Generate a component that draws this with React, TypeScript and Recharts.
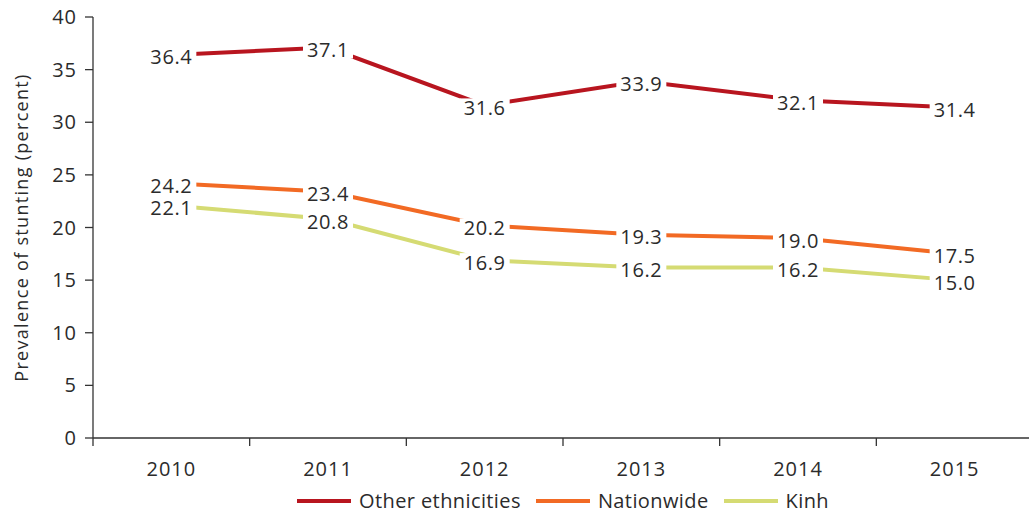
import React from "react";
import { LineChart, Line, XAxis, YAxis, Legend, LabelList } from "recharts";

const years = ["2010", "2011", "2012", "2013", "2014", "2015"];
const otherEthnicities = [36.4, 37.1, 31.6, 33.9, 32.1, 31.4];
const nationwide = [24.2, 23.4, 20.2, 19.3, 19.0, 17.5];
const kinh = [22.1, 20.8, 16.9, 16.2, 16.2, 15.0];
const yTicks = [0, 5, 10, 15, 20, 25, 30, 35, 40];

const seriesInfo = [
  { key: "other", name: "Other ethnicities", color: "#B8151F" },
  { key: "nation", name: "Nationwide", color: "#F26A24" },
  { key: "kinh", name: "Kinh", color: "#D5DB73" },
];

const data = years.map((y, i) => ({
  x: i + 0.5,
  year: y,
  other: otherEthnicities[i],
  nation: nationwide[i],
  kinh: kinh[i],
}));

const xTicks: number[] = [];
for (let i = 0; i <= years.length; i++) {
  xTicks.push(i);
  if (i < years.length) xTicks.push(i + 0.5);
}

const FONT = "'Open Sans', 'Noto Sans', sans-serif";
const TEXT = "#2b2b2b";

const XTick = (props: any) => {
  const { x, y, payload } = props;
  const v = payload.value as number;
  if (Number.isInteger(v)) {
    return <line x1={x} x2={x} y1={y} y2={y + 8} stroke="#333" strokeWidth={1.3} />;
  }
  const label = years[Math.floor(v)];
  return (
    <text x={x} y={y + 30} textAnchor="middle" dominantBaseline="central" fontSize={20} fill={TEXT} fontFamily={FONT} letterSpacing={1}>
      {label}
    </text>
  );
};

const ValueLabel = (props: any) => {
  const { x, y, value } = props;
  const txt = Number(value).toFixed(1);
  const w = 50;
  const h = 18;
  return (
    <g>
      <rect x={x - w / 2} y={y + 2 - h / 2} width={w} height={h} fill="#fff" />
      <text x={x} y={y + 2} textAnchor="middle" dominantBaseline="central" fontSize={20} fill={TEXT} fontFamily={FONT} letterSpacing={0.6}>
        {txt}
      </text>
    </g>
  );
};

const LegendContent = () => (
  <div style={{ display: "flex", justifyContent: "center", alignItems: "center", fontFamily: FONT, fontSize: 20, color: TEXT, letterSpacing: 0.4 }}>
    {seriesInfo.map((s, i) => (
      <div key={s.key} style={{ display: "flex", alignItems: "center", marginRight: i < seriesInfo.length - 1 ? 15 : 0 }}>
        <div style={{ width: 54, height: 4, background: s.color, marginRight: 8 }} />
        <span>{s.name}</span>
      </div>
    ))}
  </div>
);

export default function App() {
  return (
    <div style={{ position: "absolute", left: 0, top: 0, width: 1029, height: 513, overflow: "hidden", background: "#fff" }}>
      <LineChart width={1040} height={513} data={data} margin={{ top: 17, right: 7, left: 0, bottom: 0 }}>
        <XAxis
          type="number"
          dataKey="x"
          domain={[0, years.length]}
          ticks={xTicks}
          interval={0}
          tick={<XTick />}
          tickLine={false}
          tickSize={0}
          tickMargin={0}
          axisLine={{ stroke: "#333", strokeWidth: 1.3 }}
          height={48}
        />
        <YAxis
          domain={[0, 40]}
          ticks={yTicks}
          interval={0}
          width={93}
          tickSize={8}
          tickMargin={8}
          tickLine={{ stroke: "#333", strokeWidth: 1.3 }}
          axisLine={{ stroke: "#333", strokeWidth: 1.3 }}
          tick={{ fontSize: 20, fill: TEXT, fontFamily: FONT, letterSpacing: 1 }}
          label={{ value: "Prevalence of stunting (percent)", angle: -90, position: "insideLeft", offset: 22, style: { fontSize: 18, fill: TEXT, fontFamily: FONT, letterSpacing: 1.3, textAnchor: "middle" } }}
        />
        <Legend verticalAlign="bottom" wrapperStyle={{ left: 93, width: 940, bottom: -1 }} content={<LegendContent />} />
        {seriesInfo.map((s) => (
          <Line key={s.key} dataKey={s.key} name={s.name} stroke={s.color} strokeWidth={4} dot={false} activeDot={false} isAnimationActive={false} type="linear">
            <LabelList dataKey={s.key} content={<ValueLabel />} />
          </Line>
        ))}
      </LineChart>
    </div>
  );
}
